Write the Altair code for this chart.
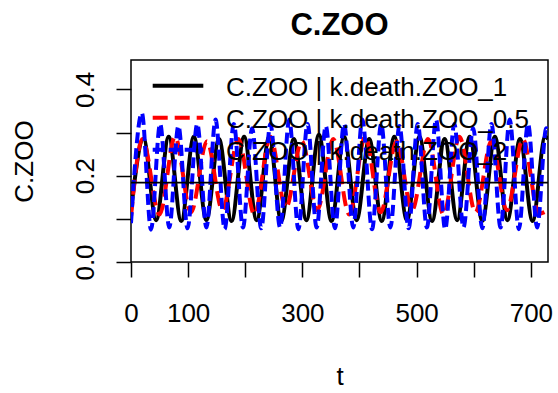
import altair as alt
import pandas as pd

FONT = "Liberation Sans"

# ---- data (times of peaks/troughs and their values) ----
t_black = [0, 22, 44, 66, 88, 110, 132, 154, 176, 198, 220, 242, 263, 285, 307, 329, 351,
           373, 395, 417, 439, 461, 483, 505, 527, 549, 571, 593, 615, 637, 659, 681, 703, 725, 730]
v_black = [0.12, 0.285, 0.097, 0.29, 0.095, 0.29, 0.097, 0.285, 0.095, 0.29, 0.097, 0.29, 0.095,
           0.285, 0.097, 0.295, 0.095, 0.29, 0.097, 0.285, 0.095, 0.29, 0.097, 0.29, 0.095, 0.285,
           0.097, 0.29, 0.095, 0.29, 0.097, 0.285, 0.095, 0.29, 0.285]

t_red = [0, 20, 50, 77, 105, 133, 160, 188, 216, 244, 271, 299, 326, 354, 382, 410, 437, 465,
         492, 520, 547, 575, 603, 631, 658, 686, 714, 730]
v_red = [0.105, 0.285, 0.11, 0.29, 0.115, 0.28, 0.12, 0.285, 0.11, 0.29, 0.125, 0.28, 0.12, 0.285,
         0.11, 0.29, 0.115, 0.28, 0.12, 0.285, 0.11, 0.29, 0.115, 0.28, 0.12, 0.285, 0.112, 0.12]

t_blue = [0, 19, 35, 51, 67, 83, 99, 116, 132, 148, 164, 180, 196, 212, 228, 244, 261, 277, 293,
          309, 325, 341, 357, 373, 389, 405, 422, 438, 454, 470, 486, 502, 518, 534, 550, 566,
          582, 599, 615, 631, 647, 663, 679, 695, 711, 727, 730]
v_blue = [0.09, 0.345, 0.075, 0.32, 0.08, 0.315, 0.078, 0.32, 0.08, 0.33, 0.076, 0.32, 0.08, 0.31,
          0.078, 0.32, 0.08, 0.33, 0.076, 0.32, 0.08, 0.315, 0.078, 0.32, 0.08, 0.33, 0.076, 0.32,
          0.08, 0.315, 0.078, 0.32, 0.08, 0.33, 0.076, 0.32, 0.08, 0.31, 0.078, 0.32, 0.08, 0.33,
          0.076, 0.32, 0.08, 0.31, 0.305]

series_labels = ["C.ZOO | k.death.ZOO_1", "C.ZOO | k.death.ZOO_0.5", "C.ZOO | k.death.ZOO_2"]
chart_title = "C.ZOO"
hline_value = [0.184]

x_ticks = [0, 100, 200, 300, 400, 500, 600, 700]
y_ticks = [0, 0.1, 0.2, 0.3, 0.4]

X_DOMAIN = [0, 730]
Y_DOMAIN = [0, 0.468]

W, H = 417, 202

xs = alt.Scale(domain=X_DOMAIN, nice=False, zero=False)
ys = alt.Scale(domain=Y_DOMAIN, nice=False, zero=False)

x_axis = alt.Axis(
    values=x_ticks, title="t",
    labelExpr="datum.value == 200 || datum.value == 400 || datum.value == 600 ? '' : datum.label",
    labelBaseline="alphabetic", labelPadding=44.7, labelFlush=False, labelOverlap=False,
    titleX=W / 2, titleY=122, titleAlign="center", titleBaseline="alphabetic",
)
y_axis = alt.Axis(
    values=y_ticks, title="C.ZOO",
    labelExpr="datum.value == 0.1 || datum.value == 0.3 ? '' : format(datum.value, '.1f')",
    labelAngle=270, labelAlign="center", labelBaseline="alphabetic", labelPadding=23,
    labelFlush=False, labelOverlap=False,
    titleAngle=270, titleX=-99, titleY=H / 2, titleAlign="center", titleBaseline="alphabetic",
)


def series_layer(t, v, color, dash=None):
    df = pd.DataFrame({"t": t, "v": v})
    kw = dict(color=color, strokeWidth=4, clip=True, interpolate="monotone")
    if dash:
        kw["strokeDash"] = dash
    return alt.Chart(df).mark_line(**kw).encode(
        x=alt.X("t:Q", scale=xs, axis=x_axis),
        y=alt.Y("v:Q", scale=ys, axis=y_axis),
    )


black = series_layer(t_black, v_black, "black")
red = series_layer(t_red, v_red, "#FF0000", dash=[15, 7])
blue = series_layer(t_blue, v_blue, "#0000FF", dash=[11, 5])

hline = alt.Chart(pd.DataFrame({"v": hline_value})).mark_rule(color="black", strokeWidth=1.6).encode(
    y=alt.Y("v:Q", scale=ys, axis=y_axis)
)

# ---- legend drawn inside the plot (no box), like R's legend(bty="n") ----
leg_colors = ["black", "#FF0000", "#0000FF"]
leg_dash = [None, [15, 7], [11, 5]]
leg_line_y = [25.7, 57.7, 89.7]
legend_layers = []
one = pd.DataFrame({"k": [0]})
for i, lab in enumerate(series_labels):
    kw = dict(color=leg_colors[i], strokeWidth=4)
    if leg_dash[i]:
        kw["strokeDash"] = leg_dash[i]
    legend_layers.append(
        alt.Chart(one).mark_rule(**kw).encode(
            x=alt.value(21.7), x2=alt.value(72.3), y=alt.value(leg_line_y[i])
        )
    )
    legend_layers.append(
        alt.Chart(pd.DataFrame({"label": [lab]})).mark_text(
            align="left", baseline="alphabetic", fontSize=26, font=FONT, color="black"
        ).encode(text="label:N", x=alt.value(95), y=alt.value(leg_line_y[i] + 10.3))
    )

title_layer = alt.Chart(pd.DataFrame({"label": [chart_title]})).mark_text(
    align="center", baseline="alphabetic", fontSize=31, fontWeight="bold", font=FONT, color="black"
).encode(text="label:N", x=alt.value(W / 2), y=alt.value(-25))

chart = alt.layer(black, red, blue, hline, *legend_layers, title_layer).properties(
    width=W, height=H,
    autosize=alt.AutoSizeParams(type="none"),
    padding={"left": 131, "top": 60, "right": 10, "bottom": 131},
    background="white",
).configure_view(
    stroke="black", strokeWidth=1.5
).configure_axis(
    labelFont=FONT, labelFontSize=26, labelColor="black",
    titleFont=FONT, titleFontSize=26, titleFontWeight="normal", titleColor="black",
    tickColor="black", tickWidth=1.5, tickSize=15, domain=False, grid=False,
)

chart.save("out.html", embed_options={"renderer": "svg", "actions": False})
